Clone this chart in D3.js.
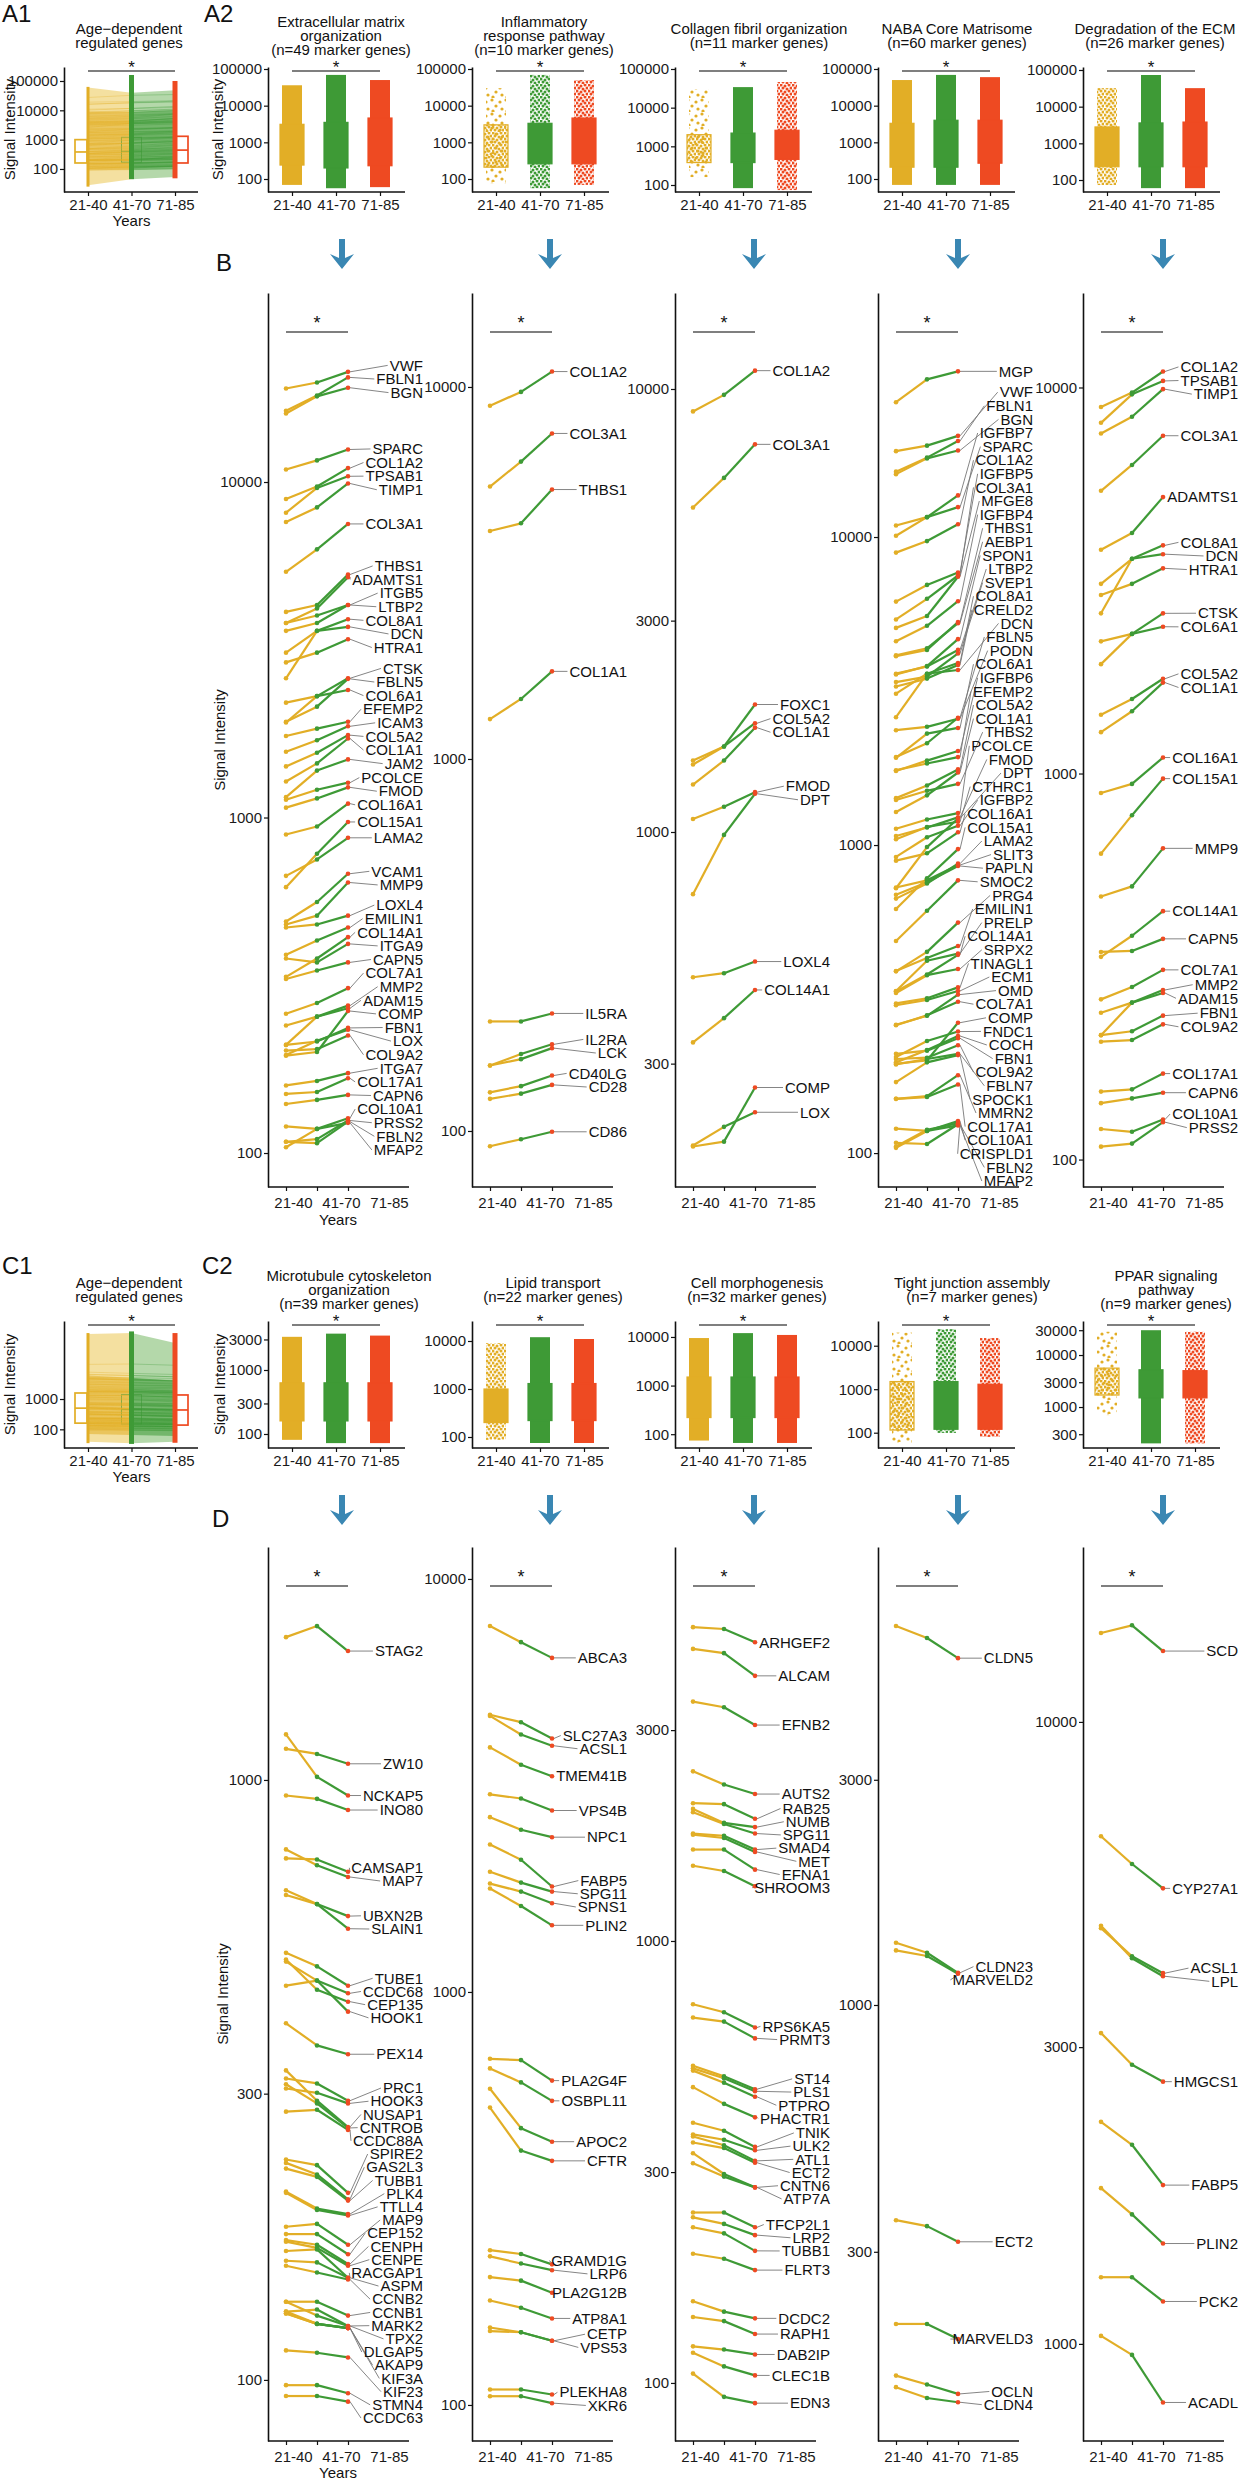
<!DOCTYPE html>
<html><head><meta charset="utf-8">
<script src="https://cdn.jsdelivr.net/npm/d3@7/dist/d3.min.js"></script>
<style>
body{margin:0;background:#fff;}
</style></head>
<body><svg id="fig" width="1239" height="2480" xmlns="http://www.w3.org/2000/svg"></svg>
<script>
// ===================== DATA =====================
const groups = ["21-40", "41-70", "71-85"];

// ---- B panels: [gene, mean 21-40, mean 41-70, mean 71-85] (signal intensity)
const ecmOrganization = [
 ["VWF",19000,19800,21300],["FBLN1",16300,18100,20500],["BGN",16000,18000,19100],
 ["SPARC",10900,11600,12500],["COL1A2",8900,9700,11000],["TPSAB1",8100,9600,10400],
 ["TIMP1",7600,8400,9900],["COL3A1",5400,6300,7500],["THBS1",4100,4300,5300],
 ["ADAMTS1",3800,4200,5200],["ITGB5",3800,4000,4300],["LTBP2",3600,3800,4300],
 ["COL8A1",3100,3600,3900],["DCN",2600,3600,3700],["HTRA1",2900,3100,3400],
 ["CTSK",2200,2300,2600],["FBLN5",1930,2140,2590],["COL6A1",1920,2300,2400],
 ["EFEMP2",1750,1840,1930],["ICAM3",1570,1700,1870],["COL5A2",1420,1560,1760],
 ["COL1A1",1280,1450,1720],["JAM2",1150,1380,1490],["PCOLCE",1130,1210,1270],
 ["FMOD",1070,1140,1230],["COL16A1",890,940,1100],["COL15A1",620,780,970],
 ["LAMA2",670,750,870],["VCAM1",490,560,680],["MMP9",480,510,640],
 ["LOXL4",470,480,510],["EMILIN1",390,430,470],["COL14A1",335,380,440],
 ["ITGA9",380,370,420],["CAPN5",330,350,370],["COL7A1",260,280,310],
 ["MMP2",240,255,275],["ADAM15",210,255,270],["COMP",195,200,265],
 ["FBN1",210,215,236],["LOX",196,216,233],["COL9A2",202,204,224],
 ["ITGA7",159,164,173],["COL17A1",150,152,167],["CAPN6",140,144,149],
 ["COL10A1",120,118,127],["PRSS2",108,110,125],["FBLN2",108,107,124],["MFAP2",104,118,123]
];
const inflammatoryResponse = [
 ["COL1A2",8900,9700,11000],["COL3A1",5400,6300,7500],["THBS1",4100,4300,5300],
 ["COL1A1",1280,1450,1720],["IL5RA",197,197,207],["IL2RA",150,161,171],
 ["LCK",150,156,167],["CD40LG",127,132,141],["CD28",122,126,133],["CD86",91,95,99.5]
];
const collagenFibril = [
 ["COL1A2",8900,9700,11000],["COL3A1",5400,6300,7500],["FOXC1",1450,1560,1940],
 ["COL5A2",1420,1560,1760],["COL1A1",1280,1450,1720],["FMOD",1070,1140,1230],
 ["DPT",724,985,1220],["LOXL4",470,480,510],["COL14A1",335,380,440],
 ["COMP",195,200,265],["LOX",196,216,233]
];
const nabaCoreMatrisome = [
 ["MGP",27400,32500,34500],["VWF",19000,19800,21300],["FBLN1",16300,18100,20500],
 ["BGN",16000,18000,19100],["IGFBP7",10100,11600,13650],["SPARC",10900,11600,12500],
 ["COL1A2",8900,9700,11000],["IGFBP5",6170,6990,7670],["COL3A1",5400,6300,7500],
 ["MFGE8",5070,5540,7430],["IGFBP4",4590,5150,6190],["THBS1",4100,4300,5300],
 ["AEBP1",4130,4350,5250],["LTBP2",3600,3800,4300],["SPON1",3580,3810,4660],
 ["SVEP1",3380,3520,4190],["COL8A1",3100,3600,3900],["DCN",2600,3600,3700],
 ["FBLN5",1930,2140,2590],["CRELD2",3270,3470,3840],["COL6A1",1920,2300,2400],
 ["PODN",2360,2420,2570],["IGFBP6",1740,1880,2020],["EFEMP2",1750,1840,1930],
 ["COL5A2",1420,1560,1760],["COL1A1",1280,1450,1720],["THBS2",1400,1500,1580],
 ["PCOLCE",1130,1210,1270],["FMOD",1070,1140,1230],["DPT",724,985,1220],
 ["CTHRC1",1045,1145,1190],["IGFBP2",915,1060,1155],["COL16A1",890,940,1100],
 ["COL15A1",620,780,970],["SLIT3",728,768,861],["LAMA2",670,750,870],
 ["PAPLN",690,757,855],["SMOC2",488,612,768],["PRG4",389,450,560],
 ["EMILIN1",390,430,470],["COL14A1",335,380,440],["PRELP",336,421,444],
 ["SRPX2",331,378,396],["TINAGL1",306,318,345],["ECM1",302,314,336],
 ["OMD",261,279,327],["COL7A1",260,280,310],["COMP",195,200,265],
 ["FNDC1",205,231,248],["COCH",197,216,240],["FBN1",210,215,236],
 ["COL9A2",202,204,224],["FBLN7",194,202,210],["SPOCK1",170,197,208],
 ["MMRN2",150,153,179],["COL17A1",150,152,167],["COL10A1",120,118,127],
 ["FBLN2",108,107,124],["MFAP2",104,118,123],["CRISPLD1",105,119,125]
];
const ecmDegradation = [
 ["COL1A2",8900,9700,11000],["TPSAB1",8100,9600,10400],["TIMP1",7600,8400,9900],
 ["COL3A1",5400,6300,7500],["ADAMTS1",3800,4200,5200],["COL8A1",3100,3600,3900],
 ["DCN",2600,3600,3700],["HTRA1",2900,3100,3400],["CTSK",2200,2300,2600],
 ["COL6A1",1920,2300,2400],["COL5A2",1420,1560,1760],["COL1A1",1280,1450,1720],
 ["COL16A1",890,940,1100],["COL15A1",620,780,970],["MMP9",480,510,640],
 ["COL14A1",335,380,440],["CAPN5",345,347,373],["COL7A1",260,280,310],
 ["MMP2",240,255,275],["ADAM15",210,255,270],["FBN1",210,215,236],
 ["COL9A2",202,204,224],["COL17A1",150,152,167],["CAPN6",140,144,149],
 ["COL10A1",120,118,127],["PRSS2",108,110,125]
];

// ---- D panels
const microtubuleOrganization = [
 ["STAG2",1730,1805,1640],["ZW10",1127,1105,1064],["NCKAP5",1191,1012,942],
 ["INO80",942,930,891],["CAMSAP1",740,737,703],["MAP7",766,721,689],
 ["UBXN2B",655,621,593],["SLAIN1",643,621,565],["TUBE1",515,489,454],
 ["CCDC68",454,463,441],["CEP135",502,447,427],["HOOK1",498,463,411],
 ["PEX14",393,361,349],["PRC1",318,312,292],["HOOK3",306,301,289],
 ["NUSAP1",328,292,264],["CNTROB",311,289,263],["CCDC88A",280,282,261],
 ["SPIRE2",233,228,205],["GAS2L3",230,220,200],["TUBB1",225,218,199],
 ["PLK4",206,193,189],["TTLL4",205,192,188],["MAP9",180,182,168],
 ["CEP152",175,175,162],["CENPH",171,168,156],["CENPE",170,166,155],
 ["RACGAP1",164,165,148],["ASPM",158,157,148],["CCNB2",155,151,147],
 ["CCNB1",135,135,128],["MARK2",130,131,123],["TPX2",135,128,123],
 ["DLGAP5",129,124,122],["AKAP9",129,124,122],["KIF3A",130,124,122],
 ["KIF23",112,111,109],["STMN4",98,98,95],["CCDC63",94,94,92]
];
const lipidTransport = [
 ["ABCA3",7690,7030,6440],["SLC27A3",4690,4500,4110],["ACSL1",4660,4200,3945],
 ["TMEM41B",3910,3550,3330],["VPS4B",3010,2940,2750],["NPC1",2650,2470,2370],
 ["FABP5",2275,2090,1800],["SPG11",1955,1840,1750],["SPNS1",1830,1750,1640],
 ["PLIN2",1780,1615,1450],["PLA2G4F",689,684,610],["OSBPL11",653,604,545],
 ["APOC2",583,468,434],["CFTR",525,413,390],["GRAMD1G",237,232,219],
 ["LRP6",229,220,212],["PLA2G12B",204,200,187],["ATP8A1",179,172,162],
 ["CETP",154,150,143],["VPS53",151,150,143],["PLEKHA8",109,109,106],["XKR6",105,105,101]
];
const cellMorphogenesis = [
 ["ARHGEF2",5130,5080,4740],["ALCAM",4580,4480,3980],["EFNB2",3480,3380,3080],
 ["AUTS2",2420,2260,2150],["RAB25",2050,2040,1890],["NUMB",1990,1850,1810],
 ["SPG11",1955,1840,1750],["SMAD4",1750,1730,1610],["MET",1740,1710,1590],
 ["EFNA1",1610,1610,1450],["SHROOM3",1480,1440,1330],["RPS6KA5",719,690,637],
 ["PRMT3",671,657,602],["ST14",522,494,462],["PLS1",515,489,457],
 ["PTPRO",509,478,444],["PHACTR1",467,428,399],["TNIK",388,372,342],
 ["ULK2",365,355,336],["ATL1",361,345,318],["ECT2",350,340,315],
 ["CNTN6",331,297,277],["ATP7A",314,293,277],["TFCP2L1",243,243,225],
 ["LRP2",237,229,216],["TUBB1",225,218,199],["FLRT3",196,191,180],
 ["DCDC2",153,145,140],["RAPH1",141,138,129],["DAB2IP",121,119,116],
 ["CLEC1B",117,109,104],["EDN3",105,93,90]
];
const tightJunction = [
 ["CLDN5",6350,5990,5430],["CLDN23",1355,1290,1170],["MARVELD2",1305,1270,1165],
 ["ECT2",350,340,315],["MARVELD3",211,211,196],["OCLN",164,157,150],["CLDN4",155,147,144]
];
const pparSignaling = [
 ["SCD",13900,14300,13000],["CYP27A1",6550,5910,5400],["ACSL1",4660,4200,3945],
 ["LPL",4700,4170,3900],["HMGCS1",3160,2810,2640],["FABP5",2275,2090,1800],
 ["PLIN2",1780,1615,1450],["PCK2",1280,1280,1170],["ACADL",1030,960,805]
];

// ---- A2 / C2 distributions per age group: [low, q1, q3, high]
const ecmOrgDist      = [[69,240,3100,36000],[56,200,3500,69000],[60,230,4600,50000]];
const inflamDist      = [[77,210,3000,30000],[56,260,3300,69000],[69,260,4600,50000]];
const collagenDist    = [[160,380,2000,30000],[83,380,2200,34000],[74,460,2600,46000]];
const nabaDist        = [[69,210,3300,50000],[69,210,4000,69000],[69,270,4000,60000]];
const degradationDist = [[73,230,2800,32000],[60,230,3600,73000],[60,230,3800,32000]];
const microtubuleDist = [[81,160,630,3300],[72,160,630,3700],[72,160,630,3450]];
const lipidDist       = [[87,200,1000,9000],[75,220,1300,12000],[75,220,1300,11000]];
const morphoDist      = [[74,220,1500,9500],[66,220,1500,12000],[66,220,1500,11000]];
const tightDist       = [[58,115,1500,20000],[99,120,1500,24000],[80,120,1300,15000]];
const pparDist        = [[700,1700,5600,28000],[200,1500,5200,30000],[200,1500,5000,28000]];

// ---- A1 / C1 paired-line envelopes per age group
const a1OuterHigh = [60000, 40000, 48000], a1OuterLow = [28, 45, 53];
const a1InnerHigh = [9000, 9000, 10000],  a1InnerLow = [90, 95, 100];
const a1ColumnRange = [[25,63000],[45,160000],[48,100000]];
const a1Box = [[160,380,1000],[170,400,1200],[160,440,1300]];
const c1OuterHigh = [140000, 150000, 70000], c1OuterLow = [39, 35, 39];
const c1InnerHigh = [6000, 5000, 4000],  c1InnerLow = [70, 65, 60];
const c1ColumnRange = [[35,150000],[33,170000],[36,150000]];
const c1Box = [[160,500,1580],[150,450,1400],[138,435,1360]];

// ---- axis domains & tick labels
const a1Domain = [16.4, 300000], a1Ticks = [100,1000,10000,100000];
const c1Domain = [24.2, 375000], c1Ticks = [100,1000];
const aDomains = [[44.2,113400],[44.2,113400],[65.9,112600],[44.2,113400],[47.1,120700]];
const aTicks = [[100,1000,10000,100000],[100,1000,10000,100000],[100,1000,10000,100000],[100,1000,10000,100000],[100,1000,10000,100000]];
const cDomains = [[60.4,5830],[59,26100],[52,21300],[44.5,37000],[163,45100]];
const cTicks = [[100,300,1000,3000],[100,1000,10000],[100,1000,10000],[100,1000,10000],[300,1000,3000,10000,30000]];
const bDomains = [[79.2,36590],[70.7,17890],[158,16470],[77.6,61970],[84.9,17570]];
const bTicks = [[100,1000,10000],[100,1000,10000],[300,1000,3000,10000],[100,1000,10000],[100,1000,10000]];
const dDomains = [[79.1,2445],[81.8,11950],[73.9,7788],[119.2,9339],[698,19110]];
const dTicks = [[100,300,1000],[100,1000,10000],[100,300,1000,3000],[300,1000,3000],[1000,3000,10000]];

const aTitles = [["Extracellular matrix","organization","(n=49 marker genes)"],["Inflammatory","response pathway","(n=10 marker genes)"],["Collagen fibril organization","(n=11 marker genes)"],["NABA Core Matrisome","(n=60 marker genes)"],["Degradation of the ECM","(n=26 marker genes)"]];
const cTitles = [["Microtubule cytoskeleton","organization","(n=39 marker genes)"],["Lipid transport","(n=22 marker genes)"],["Cell morphogenesis","(n=32 marker genes)"],["Tight junction assembly","(n=7 marker genes)"],["PPAR signaling","pathway","(n=9 marker genes)"]];
const pairedTitle = ["Age\u2212dependent","regulated genes"];

// ===================== LAYOUT / STYLE =====================
const FONT = '"Liberation Sans", Arial, Helvetica, sans-serif';
const COL = {y:"#E2AE26", g:"#3E9A36", r:"#EE4A22", blue:"#3A87B3", ink:"#111"};
const GCOL = [COL.y, COL.g, COL.r];
const FS = 15;
const AX = [268, 472, 675, 878, 1083];
const ROW_A = {top:67, bottom:192}, ROW_B = {top:293, bottom:1187};
const ROW_C = {top:1321, bottom:1448}, ROW_D = {top:1547, bottom:2441};
const aTitleX = [341, 544, 759, 957, 1155];
const cTitleX = [349, 553, 757, 972, 1166];
const aDensity = [[0,0,0],[2,1,1],[2,0,1],[0,0,0],[1,0,0]];
const cDensity = [[0,0,0],[1,0,0],[0,0,0],[2,1,1],[2,0,1]];

const svg = d3.select("#fig");
svg.append("rect").attr("width",1239).attr("height",2480).attr("fill","#fff");
const defs = svg.append("defs");
const tileMed = [[1,1],[5,2],[9,1],[3,4],[7,5],[11,4],[1,7],[5,8],[9,7],[3,10],[7,11],[11,10]];
const tileSparse = [[2,2],[10,4],[6,8],[12,11],[3,13]];
GCOL.forEach((c,k)=>{
  const pm = defs.append("pattern").attr("id","pm"+k).attr("width",12).attr("height",12).attr("patternUnits","userSpaceOnUse");
  tileMed.forEach(([x,y])=>pm.append("circle").attr("cx",x).attr("cy",y).attr("r",1.5).attr("fill",c));
  const ps = defs.append("pattern").attr("id","ps"+k).attr("width",14).attr("height",14).attr("patternUnits","userSpaceOnUse");
  tileSparse.forEach(([x,y])=>ps.append("circle").attr("cx",x).attr("cy",y).attr("r",1.6).attr("fill",c));
});

function txt(g, x, y, s, size, anchor){
  return g.append("text").attr("x",x).attr("y",y).attr("font-family",FONT).attr("font-size",size)
    .attr("fill",COL.ink).attr("text-anchor",anchor||"start").text(s);
}
function yAxis(g, x, y, ticks){
  const ax = g.append("g").attr("transform",`translate(${x},0)`)
    .call(d3.axisLeft(y).tickValues(ticks).tickFormat(d3.format("d")).tickSize(4).tickSizeOuter(0).tickPadding(2));
  ax.select(".domain").attr("stroke",COL.ink).attr("stroke-width",1.6);
  ax.selectAll(".tick line").attr("stroke",COL.ink).attr("stroke-width",1.2);
  ax.selectAll(".tick text").attr("font-size",FS).attr("font-family",FONT).attr("fill","#1a1a1a");
}
function xAxis(g, x0, len, yPos, xTick, xLab, pad){
  g.append("line").attr("x1",x0).attr("x2",x0+len).attr("y1",yPos).attr("y2",yPos).attr("stroke",COL.ink).attr("stroke-width",1.6);
  const t = g.append("g").attr("transform",`translate(0,${yPos})`).call(d3.axisBottom(xTick).tickSize(4).tickFormat(""));
  t.select(".domain").remove();
  t.selectAll(".tick line").attr("stroke",COL.ink).attr("stroke-width",1.2);
  const l = g.append("g").attr("transform",`translate(0,${yPos})`).call(d3.axisBottom(xLab).tickSize(0).tickPadding(pad));
  l.select(".domain").remove();
  l.selectAll(".tick text").attr("font-size",FS).attr("font-family",FONT).attr("fill","#1a1a1a");
}
function yTitle(g, x, y){
  g.append("text").attr("transform",`translate(${x},${y}) rotate(-90)`).attr("text-anchor","middle")
    .attr("dy","0.35em").attr("font-family",FONT).attr("font-size",15).attr("fill",COL.ink).text("Signal Intensity");
}
function titleBlock(g, cx, cy, lines){
  const n = lines.length;
  lines.forEach((s,i)=>{
    txt(g, cx, cy + (i-(n-1)/2)*14 + 5, s, FS, "middle");
  });
}
function arrow(g, x, y0, y1){
  const p = d3.path();
  p.moveTo(x-3,y0); p.lineTo(x+3,y0); p.lineTo(x+3,y1-11); p.lineTo(x+12,y1-15);
  p.lineTo(x,y1); p.lineTo(x-12,y1-15); p.lineTo(x-3,y1-11); p.closePath();
  g.append("path").attr("d",p.toString()).attr("fill",COL.blue);
}
function repel(targets, gap, lo, hi){
  const order = targets.map((t,i)=>i).sort((a,b)=>targets[a]-targets[b]);
  let cl = order.map(i=>({ids:[i], mean:targets[i]}));
  const start = c => Math.max(lo, Math.min(hi-(c.ids.length-1)*gap, c.mean-(c.ids.length-1)*gap/2));
  let merged = true;
  while(merged){
    merged = false;
    for(let k=0;k<cl.length-1;k++){
      const a=cl[k], b=cl[k+1];
      if(start(b) - (start(a)+(a.ids.length-1)*gap) < gap - 0.01){
        const ids = a.ids.concat(b.ids);
        cl.splice(k,2,{ids, mean: ids.reduce((s,i)=>s+targets[i],0)/ids.length});
        merged = true; break;
      }
    }
  }
  const pos = new Array(targets.length);
  cl.forEach(c=>{ const s=start(c); c.ids.forEach((id,j)=>pos[id]=s+j*gap); });
  return pos;
}
function sigBar(g, x1, x2, y, starBaseline, size){
  g.append("line").attr("x1",x1).attr("x2",x2).attr("y1",y).attr("y2",y).attr("stroke","#555").attr("stroke-width",1.3);
  txt(g, (x1+x2)/2, starBaseline, "*", size, "middle");
}

// ---- gene trajectory panel (B, D)
function genePanel(i, row, domain, ticks, data, gap){
  const g = svg.append("g");
  const axis = AX[i];
  const y = d3.scaleLog().domain(domain).range([row.bottom, row.top]);
  const xp = d3.scalePoint().domain(groups).range([axis+18, axis+80]);
  const xl = d3.scalePoint().domain(groups).range([axis+25, axis+121]);
  yAxis(g, axis, y, ticks);
  xAxis(g, axis, 141, row.bottom, xp, xl, 10);
  const by = row.top + 39;
  sigBar(g, xp(groups[0]), xp(groups[2]), by, by-3, 18);
  const leaders = g.append("g"), lines = g.append("g"), pts = g.append("g"), labs = g.append("g");
  const line = d3.line().x(d=>xp(d[0])).y(d=>y(d[1]));
  data.forEach(r=>{
    lines.append("path").attr("d",line([[groups[0],r[1]],[groups[1],r[2]]])).attr("fill","none").attr("stroke",COL.y).attr("stroke-width",2.2);
    lines.append("path").attr("d",line([[groups[1],r[2]],[groups[2],r[3]]])).attr("fill","none").attr("stroke",COL.g).attr("stroke-width",2.2);
    [1,2,3].forEach(k=>pts.append("circle").attr("cx",xp(groups[k-1])).attr("cy",y(r[k])).attr("r",2.3).attr("fill",GCOL[k-1]));
  });
  const pos = repel(data.map(r=>y(r[3])), gap, row.top+50, row.bottom-6);
  const right = axis + 155;
  data.forEach((r,k)=>{
    const t = txt(labs, right, pos[k], r[0], FS, "end").attr("dy","0.35em");
    const w = t.node().getComputedTextLength();
    leaders.append("line").attr("x1",xp(groups[2])+2).attr("y1",y(r[3])).attr("x2",right-w-2).attr("y2",pos[k])
      .attr("stroke","#777").attr("stroke-width",0.9);
  });
  return g;
}

// ---- distribution panel (A2, C2)
function distPanel(i, row, domain, ticks, dist, dens, title, tx){
  const g = svg.append("g");
  const axis = AX[i];
  const y = d3.scaleLog().domain(domain).range([row.bottom, row.top]);
  const xc = d3.scalePoint().domain(groups).range([axis+24, axis+112]);
  yAxis(g, axis, y, ticks);
  xAxis(g, axis, 137, row.bottom, xc, xc, 7);
  dist.forEach((d,k)=>{
    const [lo,q1,q3,hi] = d, cx = xc(groups[k]), c = GCOL[k], lev = dens[k];
    const tailFill = lev===0 ? c : (lev===1 ? `url(#pm${k})` : `url(#ps${k})`);
    const boxFill = lev===2 ? `url(#pm${k})` : c;
    g.append("rect").attr("x",cx-10).attr("width",20).attr("y",y(hi)).attr("height",y(lo)-y(hi)).attr("fill",tailFill);
    g.append("rect").attr("x",cx-12).attr("width",24).attr("y",y(q3)).attr("height",y(q1)-y(q3))
      .attr("fill",boxFill).attr("stroke",c).attr("stroke-width",1.2);
  });
  sigBar(g, xc(groups[0]), xc(groups[2]), row.top+4, row.top+6, 17);
  titleBlock(g, tx, row.top-31, title);
  return g;
}

// ---- paired line panel (A1, C1)
function pairedPanel(row, domain, ticks, genes, outerHi, outerLo, innerHi, innerLo, colRange, box){
  const g = svg.append("g");
  const x0 = 64;
  const y = d3.scaleLog().domain(domain).range([row.bottom, row.top]);
  const xc = d3.scalePoint().domain(groups).range([x0+24, x0+111]);
  const area = d3.area().x(d=>xc(d.g)).y0(d=>y(d.lo)).y1(d=>y(d.hi));
  [[0,1,COL.y,"#F0D680"],[1,2,COL.g,"#9BCB8E"]].forEach(([a,b,strong,light])=>{
    g.append("path").attr("d",area([{g:groups[a],lo:outerLo[a],hi:outerHi[a]},{g:groups[b],lo:outerLo[b],hi:outerHi[b]}])).attr("fill",light).attr("opacity",0.75);
    g.append("path").attr("d",area([{g:groups[a],lo:innerLo[a],hi:innerHi[a]},{g:groups[b],lo:innerLo[b],hi:innerHi[b]}])).attr("fill",strong).attr("opacity",0.55);
  });
  const bw = [[-13,-1],[-10,10],[1,13]];
  const drawBox = (k)=>{
    const [q1,md,q3] = box[k], cx = xc(groups[k]);
    g.append("rect").attr("x",cx+bw[k][0]).attr("width",bw[k][1]-bw[k][0]).attr("y",y(q3)).attr("height",y(q1)-y(q3))
      .attr("fill","none").attr("stroke",GCOL[k]).attr("stroke-width",k===1?1:1.7).attr("opacity",k===1?0.6:1);
    g.append("line").attr("x1",cx+bw[k][0]).attr("x2",cx+bw[k][1]).attr("y1",y(md)).attr("y2",y(md)).attr("stroke",GCOL[k]).attr("stroke-width",k===1?1:1.7).attr("opacity",k===1?0.6:1);
  };
  drawBox(1);
  const line = d3.line().x(d=>xc(d[0])).y(d=>y(d[1]));
  genes.forEach(r=>{
    g.append("path").attr("d",line([[groups[0],r[1]],[groups[1],r[2]]])).attr("stroke",COL.y).attr("stroke-width",0.7).attr("opacity",0.45).attr("fill","none");
    g.append("path").attr("d",line([[groups[1],r[2]],[groups[2],r[3]]])).attr("stroke",COL.g).attr("stroke-width",0.7).attr("opacity",0.45).attr("fill","none");
  });
  colRange.forEach((r,k)=>{
    const cx = xc(groups[k]), w = k===0?3:5;
    g.append("rect").attr("x",cx-w/2).attr("width",w).attr("y",y(r[1])).attr("height",y(r[0])-y(r[1])).attr("fill",GCOL[k]);
  });
  drawBox(0); drawBox(2);
  yAxis(g, x0, y, ticks);
  xAxis(g, x0, 134, row.bottom, xc, xc, 7);
  sigBar(g, xc(groups[0]), xc(groups[2]), row.top+4, row.top+6, 17);
  titleBlock(g, 129, row.top-31, pairedTitle);
  txt(g, xc(groups[1]), row.bottom+34, "Years", 15, "middle");
  yTitle(g, 10, (row.top+row.bottom)/2);
  return g;
}

// ===================== DRAW =====================
const bData = [ecmOrganization, inflammatoryResponse, collagenFibril, nabaCoreMatrisome, ecmDegradation];
const dData = [microtubuleOrganization, lipidTransport, cellMorphogenesis, tightJunction, pparSignaling];
const aDist = [ecmOrgDist, inflamDist, collagenDist, nabaDist, degradationDist];
const cDist = [microtubuleDist, lipidDist, morphoDist, tightDist, pparDist];
function unionGenes(list){
  const seen = new Map();
  list.forEach(arr=>arr.forEach(r=>{ if(!seen.has(r[0])) seen.set(r[0], r); }));
  return Array.from(seen.values());
}

// Row A
pairedPanel(ROW_A, a1Domain, a1Ticks, unionGenes(bData), a1OuterHigh, a1OuterLow, a1InnerHigh, a1InnerLow, a1ColumnRange, a1Box);
aDist.forEach((d,i)=>distPanel(i, ROW_A, aDomains[i], aTicks[i], d, aDensity[i], aTitles[i], aTitleX[i]));
yTitle(svg, 218, (ROW_A.top+ROW_A.bottom)/2);

// Row C
pairedPanel(ROW_C, c1Domain, c1Ticks, unionGenes(dData), c1OuterHigh, c1OuterLow, c1InnerHigh, c1InnerLow, c1ColumnRange, c1Box);
cDist.forEach((d,i)=>distPanel(i, ROW_C, cDomains[i], cTicks[i], d, cDensity[i], cTitles[i], cTitleX[i]));
yTitle(svg, 220, (ROW_C.top+ROW_C.bottom)/2);

// Row B
bData.forEach((d,i)=>genePanel(i, ROW_B, bDomains[i], bTicks[i], d, 13.6));
yTitle(svg, 220, (ROW_B.top+ROW_B.bottom)/2);
txt(svg, AX[0]+70, ROW_B.bottom+38, "Years", 15, "middle");

// Row D
dData.forEach((d,i)=>genePanel(i, ROW_D, dDomains[i], dTicks[i], d, 13.2));
yTitle(svg, 223, (ROW_D.top+ROW_D.bottom)/2);
txt(svg, AX[0]+70, ROW_D.bottom+37, "Years", 15, "middle");

// arrows
const arrowX = [342, 550, 754, 958, 1163];
arrowX.forEach(x=>{ arrow(svg, x, 239, 269); arrow(svg, x, 1495, 1525); });

// panel letters
[["A1",2,22],["A2",204,22],["B",216,271],["C1",2,1274],["C2",202,1274],["D",212,1527]]
  .forEach(([s,x,y])=>txt(svg,x,y,s,24,"start"));
</script>
</body></html>
